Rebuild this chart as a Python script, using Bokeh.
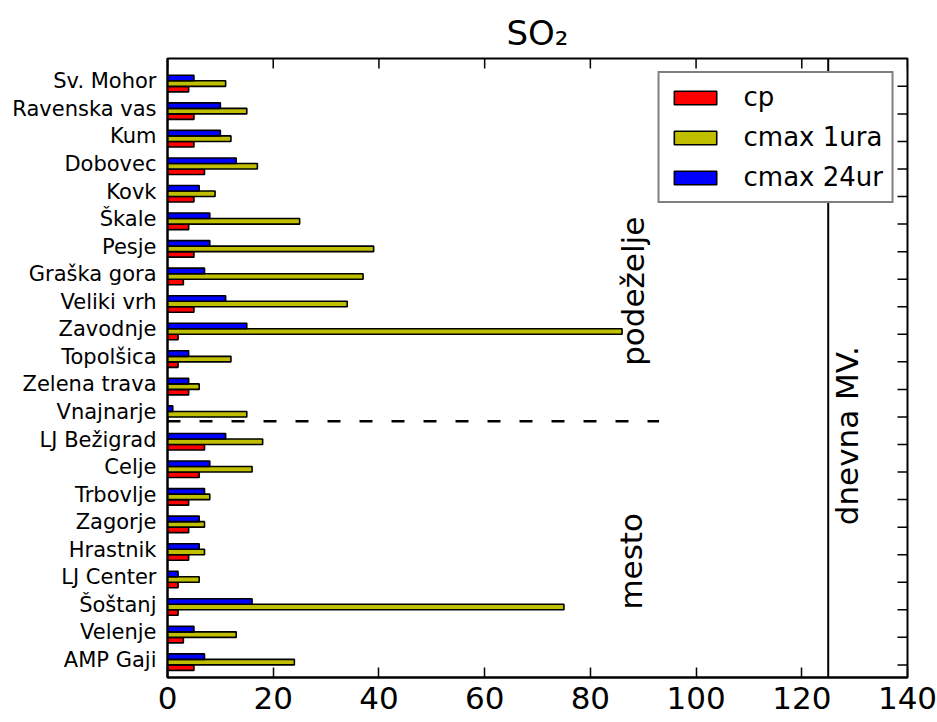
import math
from bokeh.plotting import figure
from bokeh.models import (Range1d, FixedTicker, Span, Label, Legend, LegendItem)
from bokeh.embed import file_html
from bokeh.resources import INLINE

# ---- data (bottom -> top) ----
stations = ["AMP Gaji", "Velenje", "Šoštanj", "LJ Center", "Hrastnik",
            "Zagorje", "Trbovlje", "Celje", "LJ Bežigrad", "Vnajnarje",
            "Zelena trava", "Topolšica", "Zavodnje", "Veliki vrh",
            "Graška gora", "Pesje", "Škale", "Kovk", "Dobovec", "Kum",
            "Ravenska vas", "Sv. Mohor"]
cp = [5, 3, 2, 2, 4, 4, 4, 6, 7, 0, 4, 2, 2, 5, 3, 5, 4, 5, 7, 5, 5, 4]
cmax_1ura = [24, 13, 75, 6, 7, 7, 8, 16, 18, 15, 6, 12, 86, 34, 37, 39, 25,
             9, 17, 12, 15, 11]
cmax_24ur = [7, 5, 16, 2, 6, 6, 7, 8, 11, 1, 4, 4, 15, 11, 7, 8, 8, 6, 13,
             10, 10, 5]
x_ticks = [0, 20, 40, 60, 80, 100, 120, 140]
daily_limit = 125          # dnevna MV.
split_level = 8.84         # border between "mesto" and "podeželje"
split_end = 93

X_MIN, X_MAX = 0, 140
Y_MIN, Y_MAX = -0.457, 22.01

idx = list(range(len(stations)))
FONT = "DejaVu Sans"

p = figure(width=937, height=722, output_backend="svg", toolbar_location=None,
           x_range=Range1d(X_MIN, X_MAX), y_range=Range1d(Y_MIN, Y_MAX),
           min_border_left=167, min_border_right=30, min_border_top=58,
           min_border_bottom=45, title="SO₂")

p.title.text_font = FONT
p.title.text_font_size = "34px"
p.title.text_font_style = "normal"
p.title.align = "center"
p.title.text_color = "black"
p.title.standoff = 12

p.xgrid.visible = False
p.ygrid.visible = False
p.outline_line_color = "black"
p.outline_line_width = 2
p.background_fill_color = "white"
p.border_fill_color = "white"

# bottom axis
xa = p.xaxis[0]
xa.ticker = FixedTicker(ticks=x_ticks)
xa.major_tick_in = 10
xa.major_tick_out = 0
xa.minor_tick_in = 0
xa.minor_tick_out = 0
xa.major_label_text_font = FONT
xa.major_label_text_font_size = "31px"
xa.major_label_text_color = "black"
xa.major_label_standoff = 9
xa.axis_line_width = 2
xa.major_tick_line_width = 1.5

# left axis
ya = p.yaxis[0]
label_pos = [i + 0.18 for i in idx]
ya.ticker = FixedTicker(ticks=label_pos)
ya.major_label_overrides = {pos: name for pos, name in zip(label_pos, stations)}
ya.major_tick_in = 0
ya.major_tick_out = 0
ya.minor_tick_in = 0
ya.minor_tick_out = 0
ya.major_label_text_font = FONT
ya.major_label_text_font_size = "21px"
ya.major_label_text_color = "black"
ya.major_label_standoff = 11
ya.axis_line_width = 2

# tick marks on the top and right frame edges (half of each dash is clipped)
p.scatter(x=x_ticks, y=[Y_MAX] * len(x_ticks), marker="dash", size=20,
          angle=math.pi / 2, line_color="black", line_width=1.5)
p.scatter(x=[X_MAX] * len(idx), y=idx, marker="dash", size=20,
          line_color="black", line_width=1.5)

# bars
r_cp = p.hbar(y=[i - 0.1 for i in idx], height=0.2, left=0, right=cp,
              fill_color="#ff0000", line_color="black", line_width=1.6)
r_1 = p.hbar(y=[i + 0.1 for i in idx], height=0.2, left=0, right=cmax_1ura,
             fill_color="#bfbf00", line_color="black", line_width=1.6)
r_24 = p.hbar(y=[i + 0.3 for i in idx], height=0.2, left=0, right=cmax_24ur,
              fill_color="#0000ff", line_color="black", line_width=1.6)

# separator and limit
p.segment(x0=[0], y0=[split_level], x1=[split_end], y1=[split_level],
          line_color="black", line_width=2.5, line_dash="13 19")
p.add_layout(Span(location=daily_limit, dimension="height",
                  line_color="black", line_width=2))

for txt, x, y in [("podeželje", 88.0, 13.56), ("mesto", 87.6, 3.76),
                  ("dnevna MV.", 128.5, 8.32)]:
    p.add_layout(Label(x=x, y=y, text=txt, angle=math.pi / 2,
                       text_align="center", text_baseline="middle",
                       text_font=FONT, text_font_size="31px",
                       text_color="black"))

legend = Legend(items=[LegendItem(label="cp", renderers=[r_cp]),
                       LegendItem(label="cmax 1ura", renderers=[r_1]),
                       LegendItem(label="cmax 24ur", renderers=[r_24])],
                location="top_right", border_line_color="black",
                border_line_width=2, background_fill_color="white",
                background_fill_alpha=1.0, label_text_font=FONT,
                label_text_font_size="26px", label_text_color="black",
                glyph_width=53, glyph_height=17, label_standoff=22,
                label_height=30, padding=9, spacing=10, margin=13)
p.add_layout(legend)

open("out.html", "w").write(file_html(p, INLINE))
